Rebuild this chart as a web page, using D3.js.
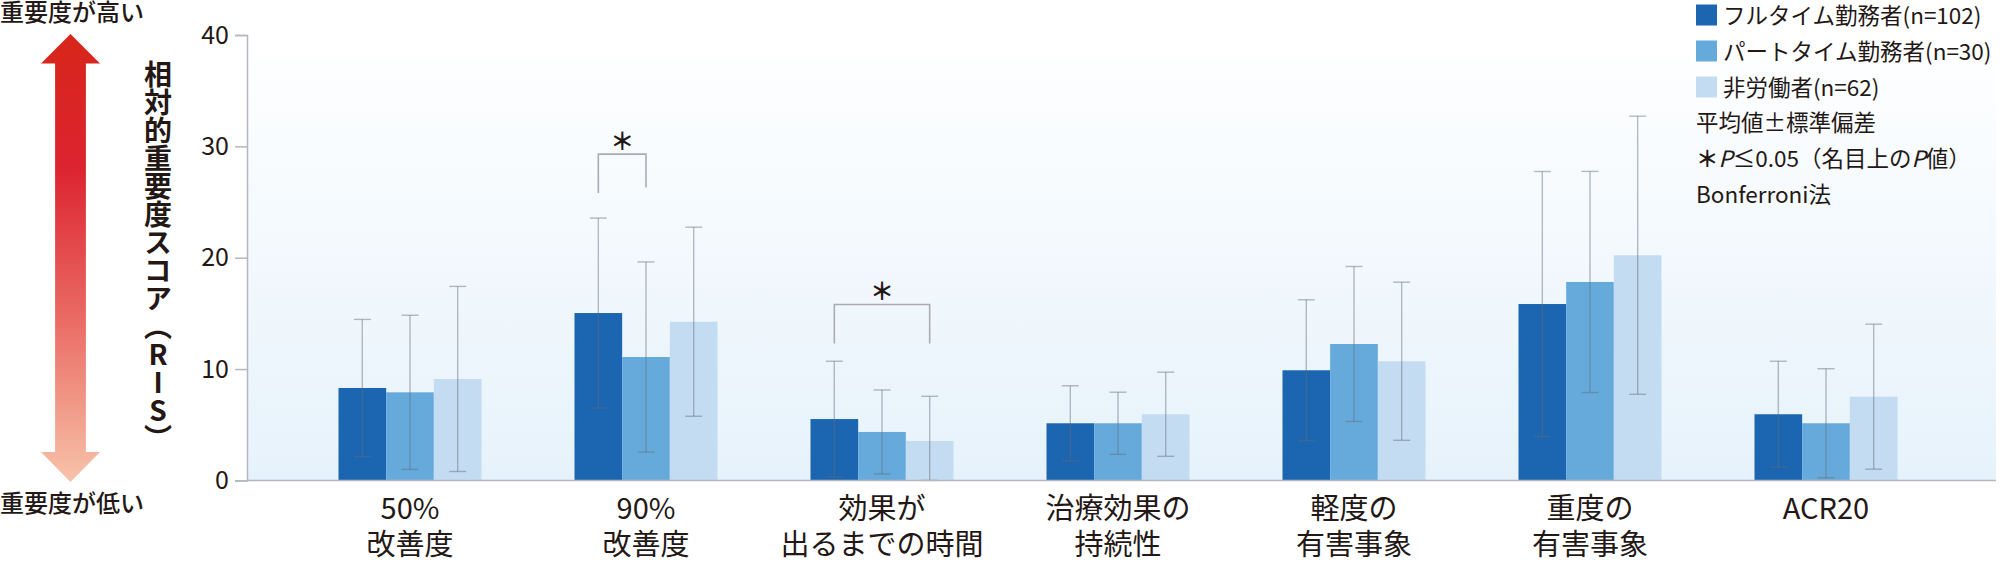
<!DOCTYPE html>
<html>
<head>
<meta charset="utf-8">
<script src="https://cdn.jsdelivr.net/npm/d3@7"></script>
<style>
  body { margin: 0; background: #fff; }
  svg { display: block; }
  text { font-family: "Noto Sans CJK JP", "Noto Sans", sans-serif; fill: #231815; }
</style>
</head>
<body>
<script>
// categories (two-line labels)
var categories = ["50%改善度", "90%改善度", "効果が出るまでの時間", "治療効果の持続性",
                  "軽度の有害事象", "重度の有害事象", "ACR20"];
var labelLines = [["50%", "改善度"], ["90%", "改善度"], ["効果が", "出るまでの時間"],
                  ["治療効果の", "持続性"], ["軽度の", "有害事象"], ["重度の", "有害事象"], ["ACR20"]];

var seriesNames = ["フルタイム勤務者(n=102)", "パートタイム勤務者(n=30)", "非労働者(n=62)"];
var seriesColors = ["#1c66b1", "#66aadc", "#c3dcf1"];

// mean RIS per group
var fullTime = [8.30, 15.03, 5.51, 5.13, 9.89, 15.84, 5.94];
var partTime = [7.91, 11.08, 4.35, 5.13, 12.25, 17.82, 5.13];
var nonWork  = [9.11, 14.25, 3.54, 5.94, 10.70, 20.22, 7.52];
// standard deviation
var fullTimeSD = [6.16, 8.53, 5.19, 3.37, 6.33, 11.90, 4.76];
var partTimeSD = [6.92, 8.54, 3.77, 2.79, 6.96, 9.93, 4.90];
var nonWorkSD  = [8.31, 8.49, 4.01, 3.78, 7.10, 12.49, 6.51];

var yTicks = [0, 10, 20, 30, 40];

// significance brackets: category, series from/to, bracket top, leg ends
var sigCat   = ["90%改善度", "効果が出るまでの時間"];
var sigFrom  = [0, 0];
var sigTo    = [1, 2];
var sigTop   = [29.3, 15.8];
var sigLegL  = [25.8, 12.3];
var sigLegR  = [26.3, 12.3];

var legendNotes = ["平均値±標準偏差", "", "Bonferroni法"];

var means = [fullTime, partTime, nonWork];
var sds = [fullTimeSD, partTimeSD, nonWorkSD];

function chart() {
  var w = 2000, h = 563;
  var axisX = 247, plotRight = 1996;

  var svg = d3.select("body").append("svg")
              .attr("width", w)
              .attr("height", h);

  var defs = svg.append("defs");
  var bg = defs.append("linearGradient").attr("id", "bg")
               .attr("x1", 0).attr("y1", 0).attr("x2", 0).attr("y2", 1);
  bg.append("stop").attr("offset", "0%").attr("stop-color", "#ffffff");
  bg.append("stop").attr("offset", "100%").attr("stop-color", "#e6f2fb");

  var arrowGrad = defs.append("linearGradient").attr("id", "arrowGrad")
               .attr("x1", 0).attr("y1", 0).attr("x2", 0).attr("y2", 1);
  arrowGrad.append("stop").attr("offset", "0%").attr("stop-color", "#d8261a");
  arrowGrad.append("stop").attr("offset", "30%").attr("stop-color", "#dc2430");
  arrowGrad.append("stop").attr("offset", "65%").attr("stop-color", "#ea6e66");
  arrowGrad.append("stop").attr("offset", "100%").attr("stop-color", "#f7c3a9");

  var y = d3.scaleLinear().domain([0, 40]).range([480.4, 35]);

  var x0 = d3.scaleBand().domain(categories)
             .range([292, 1944])
             .paddingInner(0.394)
             .paddingOuter(0.197);

  var x1 = d3.scaleBand().domain(d3.range(seriesNames.length))
             .range([0, x0.bandwidth()]);

  // plot background
  svg.append("rect")
     .attr("x", axisX).attr("y", y(40))
     .attr("width", plotRight - axisX).attr("height", y(0) - y(40))
     .attr("fill", "url(#bg)");

  // bars
  var groups = svg.selectAll("g.grp")
    .data(categories)
    .enter().append("g")
    .attr("class", "grp")
    .attr("transform", function (d) { return "translate(" + x0(d) + ",0)"; });

  groups.selectAll("rect")
    .data(function (d, i) {
      return means.map(function (m, s) { return { s: s, v: m[i], sd: sds[s][i] }; });
    })
    .enter().append("rect")
    .attr("x", function (d) { return x1(d.s); })
    .attr("y", function (d) { return y(d.v); })
    .attr("width", x1.bandwidth())
    .attr("height", function (d) { return y(0) - y(d.v); })
    .attr("fill", function (d) { return seriesColors[d.s]; });

  // error bars
  var cap = 8.5;
  var err = groups.selectAll("g.err")
    .data(function (d, i) {
      return means.map(function (m, s) { return { s: s, v: m[i], sd: sds[s][i] }; });
    })
    .enter().append("g")
    .attr("class", "err")
    .attr("stroke", "#5f6b78")
    .attr("stroke-opacity", 0.45)
    .attr("stroke-width", 1.4);

  err.append("line")
    .attr("x1", function (d) { return x1(d.s) + x1.bandwidth() / 2; })
    .attr("x2", function (d) { return x1(d.s) + x1.bandwidth() / 2; })
    .attr("y1", function (d) { return y(d.v + d.sd); })
    .attr("y2", function (d) { return y(Math.max(0, d.v - d.sd)); });
  err.append("line")
    .attr("x1", function (d) { return x1(d.s) + x1.bandwidth() / 2 - cap; })
    .attr("x2", function (d) { return x1(d.s) + x1.bandwidth() / 2 + cap; })
    .attr("y1", function (d) { return y(d.v + d.sd); })
    .attr("y2", function (d) { return y(d.v + d.sd); });
  err.append("line")
    .attr("x1", function (d) { return x1(d.s) + x1.bandwidth() / 2 - cap; })
    .attr("x2", function (d) { return x1(d.s) + x1.bandwidth() / 2 + cap; })
    .attr("y1", function (d) { return y(Math.max(0, d.v - d.sd)); })
    .attr("y2", function (d) { return y(Math.max(0, d.v - d.sd)); });

  // significance brackets
  sigCat.forEach(function (c, i) {
    var xa = x0(c) + x1(sigFrom[i]) + x1.bandwidth() / 2;
    var xb = x0(c) + x1(sigTo[i]) + x1.bandwidth() / 2;
    svg.append("path")
       .attr("d", "M" + xa + "," + y(sigLegL[i]) + "V" + y(sigTop[i]) +
                  "H" + xb + "V" + y(sigLegR[i]))
       .attr("fill", "none")
       .attr("stroke", "#a9adb3")
       .attr("stroke-width", 1.6);
    svg.append("text")
       .attr("x", (xa + xb) / 2)
       .attr("y", y(sigTop[i]) - 15)
       .attr("text-anchor", "middle")
       .attr("dominant-baseline", "central")
       .attr("font-size", "24px")
       .attr("font-weight", "bold")
       .text("＊");
  });

  // axes lines
  svg.append("line")
     .attr("x1", axisX).attr("x2", plotRight)
     .attr("y1", y(0)).attr("y2", y(0))
     .attr("stroke", "#b4b8be").attr("stroke-width", 1.5);

  var yAxis = svg.append("g")
     .attr("transform", "translate(" + axisX + ",0)")
     .call(d3.axisLeft(y).tickValues(yTicks).tickSize(12).tickPadding(6));
  yAxis.select(".domain").attr("stroke", "#b4b8be").attr("stroke-width", 1.5);
  yAxis.selectAll(".tick line").attr("stroke", "#b4b8be").attr("stroke-width", 1.5);
  yAxis.selectAll(".tick text")
       .attr("font-family", "'Noto Sans CJK JP', sans-serif")
       .attr("font-size", "25px")
       .attr("fill", "#231815");

  // x labels, one text per line
  categories.forEach(function (c, i) {
    svg.selectAll(null)
      .data(labelLines[i])
      .enter().append("text")
      .attr("text-anchor", "middle")
      .attr("font-size", "29px")
      .attr("x", x0(c) + x0.bandwidth() / 2)
      .attr("y", function (d, j) { return 519 + j * 36; })
      .text(function (d) { return d; });
  });

  // y title (vertical)
  svg.append("text")
     .attr("x", 158)
     .attr("y", 256)
     .attr("text-anchor", "middle")
     .attr("font-size", "28px")
     .attr("font-weight", "bold")
     .style("writing-mode", "vertical-rl")
     .style("text-orientation", "upright")
     .text("相対的重要度スコア（RIS）");

  // importance arrow
  var ax = 70.5, hw = 29.5, sw = 15.4;
  svg.append("path")
     .attr("d", "M" + ax + ",34" +
                "L" + (ax + hw) + ",63.5" + "H" + (ax + sw) + "V452" +
                "H" + (ax + hw) + "L" + ax + ",482" + "L" + (ax - hw) + ",452" +
                "H" + (ax - sw) + "V63.5" + "H" + (ax - hw) + "Z")
     .attr("fill", "url(#arrowGrad)");

  svg.append("text").attr("x", 0).attr("y", 21)
     .attr("font-size", "24px").attr("font-weight", 500)
     .text("重要度が高い");
  svg.append("text").attr("x", 0).attr("y", 512)
     .attr("font-size", "24px").attr("font-weight", 500)
     .text("重要度が低い");

  // legend
  var lx = 1696, rowH = 36;
  var leg = svg.selectAll("g.leg")
    .data(seriesNames)
    .enter().append("g")
    .attr("class", "leg")
    .attr("transform", function (d, i) { return "translate(" + lx + "," + (4.5 + i * rowH) + ")"; });
  leg.append("rect")
     .attr("width", 21).attr("height", 21)
     .attr("fill", function (d, i) { return seriesColors[i]; });
  leg.append("text")
     .attr("x", 27).attr("y", 19)
     .attr("font-size", "22.5px")
     .text(function (d) { return d; });

  svg.append("text").attr("x", lx).attr("y", 131)
     .attr("font-size", "22.5px").text(legendNotes[0]);
  var pn = svg.append("text").attr("x", lx).attr("y", 167).attr("font-size", "22.5px");
  pn.append("tspan").attr("font-weight", "bold").text("＊");
  pn.append("tspan").attr("font-style", "italic").text("P");
  pn.append("tspan").text("≤0.05（名目上の");
  pn.append("tspan").attr("font-style", "italic").text("P");
  pn.append("tspan").text("値）");
  svg.append("text").attr("x", lx).attr("y", 203)
     .attr("font-size", "22.5px").text(legendNotes[2]);
}

chart();
</script>
</body>
</html>
